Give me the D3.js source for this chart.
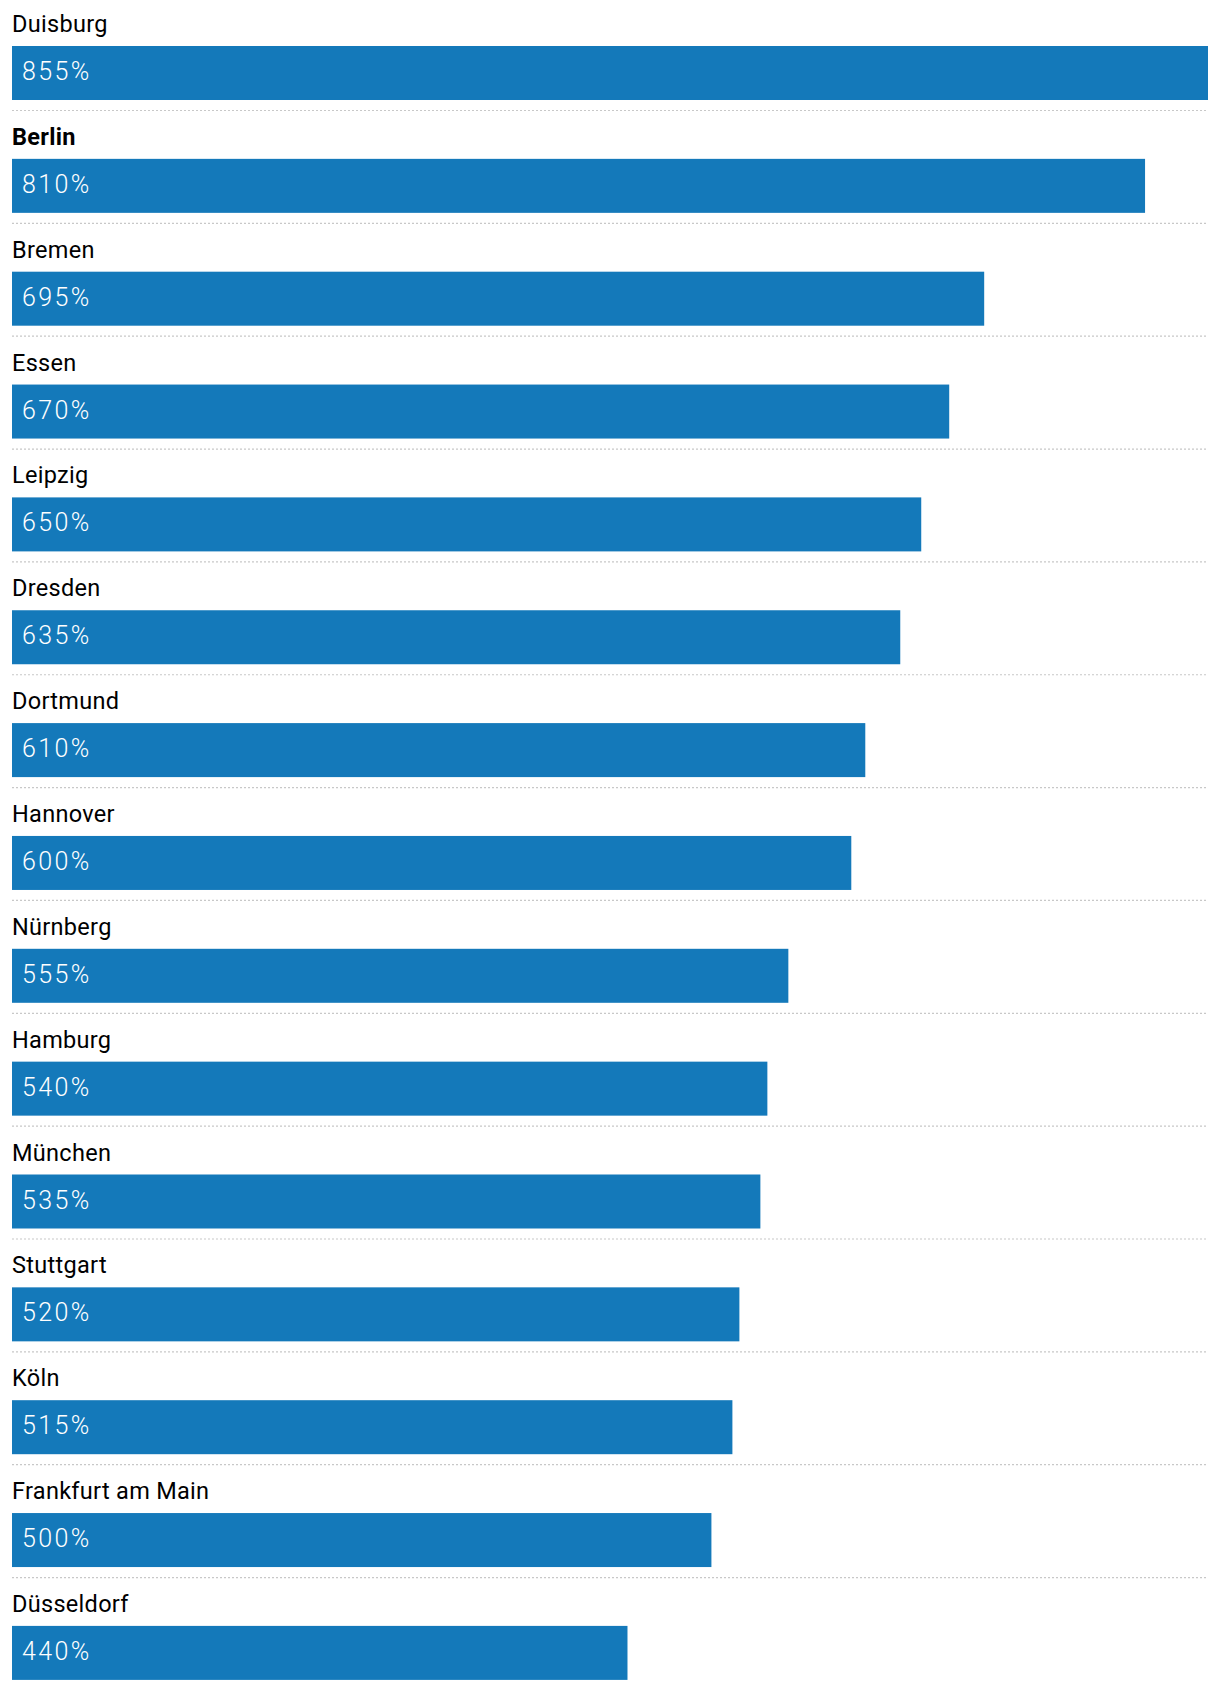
<!DOCTYPE html>
<html>
<head>
<meta charset="utf-8">
<script src="https://cdn.jsdelivr.net/npm/d3@7"></script>
<style>
  html, body { margin: 0; padding: 0; background: #fff; }
  svg { display: block; }
</style>
</head>
<body>
<div id="chart"></div>
<script>
const cities = ["Duisburg", "Berlin", "Bremen", "Essen", "Leipzig", "Dresden", "Dortmund", "Hannover", "Nürnberg", "Hamburg", "München", "Stuttgart", "Köln", "Frankfurt am Main", "Düsseldorf"];
const values = [855, 810, 695, 670, 650, 635, 610, 600, 555, 540, 535, 520, 515, 500, 440];
const highlighted = ["Berlin"];

const W = 1220, H = 1690;
const left = 12, right = 1208;
const pitch = 112.85;
const barH = 54;
const rowTop = 0;

const data = cities.map((c, i) => ({ city: c, value: values[i] }));

const svg = d3.select("#chart").append("svg")
  .attr("width", W).attr("height", H);

const x = d3.scaleLinear().domain([0, d3.max(values)]).range([left, right]);
const y = d3.scaleBand().domain(cities).range([rowTop, rowTop + pitch * cities.length]).padding(0);

const fontFam = "Roboto, 'Open Sans', sans-serif";

const row = svg.selectAll("g.row").data(data).join("g")
  .attr("class", "row")
  .attr("transform", d => `translate(0,${y(d.city)})`);

row.append("text")
  .attr("x", left)
  .attr("y", 32)
  .attr("font-family", fontFam)
  .attr("font-size", 23.5)
  .attr("letter-spacing", 0.3)
  .attr("font-weight", d => highlighted.includes(d.city) ? 700 : 400)
  .attr("fill", "#000")
  .text(d => d.city);

row.append("rect")
  .attr("x", left)
  .attr("y", 46)
  .attr("width", d => x(d.value) - left)
  .attr("height", barH)
  .attr("fill", "#1479ba");

row.append("text")
  .attr("x", left + 10)
  .attr("y", 80)
  .attr("font-family", fontFam)
  .attr("font-size", 25)
  .attr("font-weight", 300)
  .attr("letter-spacing", 2.4)
  .attr("fill", "#fff")
  .text(d => d3.format("d")(d.value) + "%");

row.filter((d, i) => i < cities.length - 1)
  .append("line")
  .attr("x1", left).attr("x2", right)
  .attr("y1", 110.5).attr("y2", 110.5)
  .attr("stroke", "#c8c8c8")
  .attr("stroke-width", 1.2)
  .attr("stroke-dasharray", "2,2");
</script>
</body>
</html>
